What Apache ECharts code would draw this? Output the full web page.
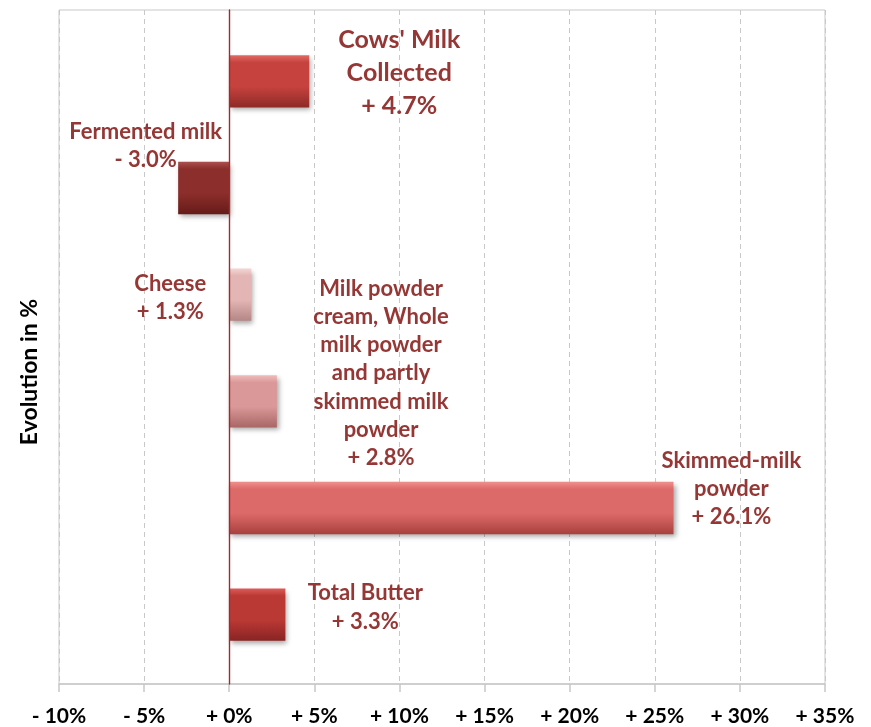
<!DOCTYPE html>
<html>
<head>
<meta charset="utf-8">
<script src="https://cdn.jsdelivr.net/npm/echarts@6/dist/echarts.min.js"></script>
<style>
html,body{margin:0;padding:0;background:#fff;}
#c{width:871px;height:727px;}
</style>
</head>
<body>
<div id="c"></div>
<script>
// ---- data ----
var categories = [
  "Cows' Milk\nCollected",
  "Fermented milk",
  "Cheese",
  "Milk powder\ncream, Whole\nmilk powder\nand partly\nskimmed milk\npowder",
  "Skimmed-milk\npowder",
  "Total Butter"
];
var values = [4.7, -3.0, 1.3, 2.8, 26.1, 3.3];
var xTicks = { min: -10, max: 35, interval: 5 };
var axisTitle = "Evolution in %";

// ---- styles ----
var barColors = [
  ['#e26a66', '#c6423e', '#8e2a27'],
  ['#a9504d', '#8c2e2b', '#661b19'],
  ['#f3d6d5', '#e3b5b4', '#b48685'],
  ['#efbcbb', '#da9998', '#a86665'],
  ['#ef8f8d', '#dc6a68', '#a9413f'],
  ['#dc5b58', '#bb3935', '#882423']
];
var labelOffsets = [[130, -8], [-58, -42], [-70, 3], [128, -28], [280, -19], [108, -7]];
var labelSizes = [25, 22, 22, 22, 22, 22];
var labelLineHeights = [33, 28, 28, 28.3, 28, 29];
var labelColor = '#953735';
var FONT = 'Lato';

function grad(c) {
  return new echarts.graphic.LinearGradient(0, 0, 0, 1, [
    { offset: 0, color: c[0] },
    { offset: 0.14, color: c[1] },
    { offset: 0.6, color: c[1] },
    { offset: 1, color: c[2] }
  ]);
}
function fmtPct(v, dec) {
  var s = dec ? Math.abs(v).toFixed(1) : String(Math.abs(v));
  return (v < 0 ? '- ' : '+ ') + s + '%';
}

var chart = echarts.init(document.getElementById('c'), null, { renderer: 'canvas' });

var barData = values.map(function (v, i) {
  return {
    value: v,
    itemStyle: { color: grad(barColors[i]) },
    label: {
      offset: labelOffsets[i],
      fontSize: labelSizes[i],
      lineHeight: labelLineHeights[i]
    }
  };
});

var option = {
  animation: false,
  backgroundColor: '#ffffff',
  grid: [
    { left: 59, right: 46, top: 10, bottom: 43, show: true, borderColor: '#c8c8c8', borderWidth: 1, backgroundColor: 'transparent' },
    { left: 59, right: 46, top: 28, bottom: 59 }
  ],
  xAxis: [
    {
      gridIndex: 0, type: 'value', min: xTicks.min, max: xTicks.max, interval: xTicks.interval,
      axisLine: { show: true, onZero: false, lineStyle: { color: '#c8c8c8', width: 1.5 } },
      axisTick: { show: true, length: 8, lineStyle: { color: '#c8c8c8', width: 1.5 } },
      axisLabel: {
        margin: 22, color: '#000', fontFamily: FONT, fontWeight: 'bold', fontSize: 21,
        formatter: function (v) { return fmtPct(v, false); }
      },
      splitLine: { show: true, lineStyle: { color: '#c8c8c8', type: [5, 4], width: 1 } }
    },
    {
      gridIndex: 1, type: 'value', min: xTicks.min, max: xTicks.max, interval: xTicks.interval,
      show: false
    }
  ],
  yAxis: [
    {
      gridIndex: 0, type: 'value', min: 0, max: 1,
      axisLine: { show: true, onZero: true, lineStyle: { color: '#a82828', width: 1.4 } },
      axisTick: { show: false }, axisLabel: { show: false }, splitLine: { show: false },
      z: 4
    },
    {
      gridIndex: 1, type: 'category', data: categories, inverse: true,
      axisLine: { show: false, onZero: false }, axisTick: { show: false }, axisLabel: { show: false },
      splitLine: { show: false },
      name: axisTitle, nameLocation: 'middle', nameGap: 18,
      nameTextStyle: { color: '#000', fontFamily: FONT, fontWeight: 'bold', fontSize: 23, padding: [0, 48, 0, 0] }
    }
  ],
  series: [
    {
      type: 'bar', xAxisIndex: 1, yAxisIndex: 1, barWidth: '49%',
      data: barData,
      itemStyle: {
        shadowBlur: 5, shadowColor: 'rgba(0,0,0,0.35)', shadowOffsetX: 2, shadowOffsetY: 3
      },
      label: {
        show: true, position: 'inside', align: 'center', verticalAlign: 'middle',
        color: labelColor, fontFamily: FONT, fontWeight: 'bold',
        formatter: function (p) { return p.name + '\n' + fmtPct(p.value, true); }
      },
      z: 3
    }
  ]
};
chart.setOption(option);
</script>
</body>
</html>
